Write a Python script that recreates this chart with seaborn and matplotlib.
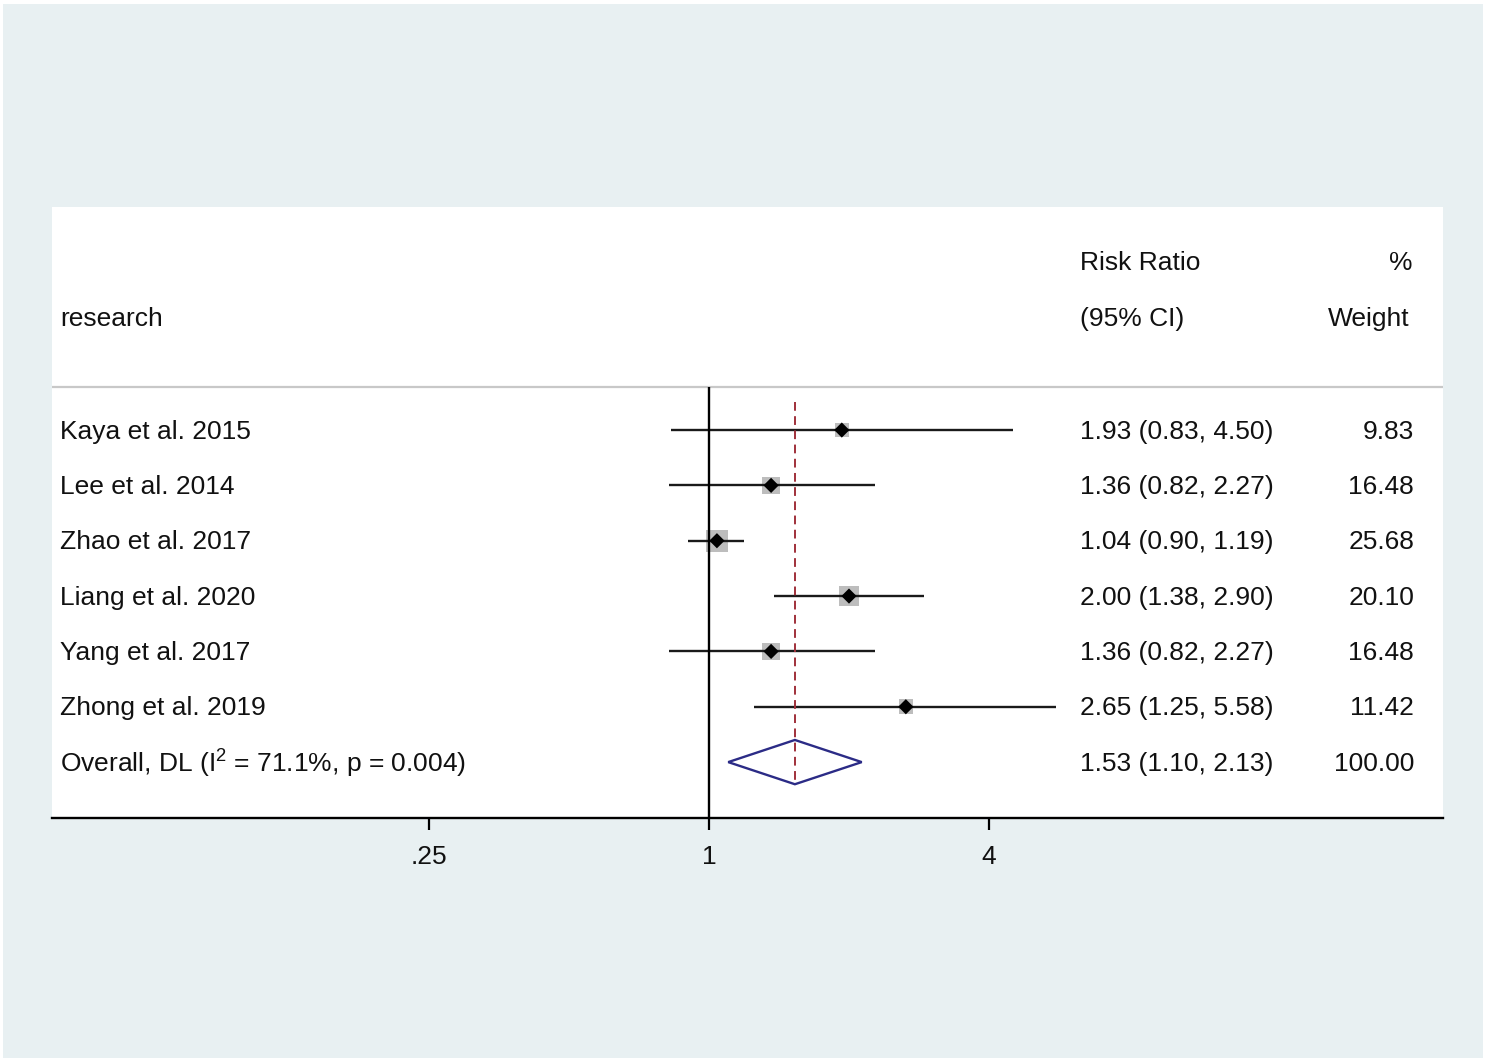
import numpy as np
import pandas as pd
import matplotlib
matplotlib.use("Agg")
import matplotlib.pyplot as plt
import seaborn as sns
from matplotlib.patches import Rectangle, Polygon
from matplotlib.transforms import blended_transform_factory

# ---- data ----
studies = ["Kaya et al. 2015", "Lee et al. 2014", "Zhao et al. 2017",
           "Liang et al. 2020", "Yang et al. 2017", "Zhong et al. 2019"]
rr = [1.93, 1.36, 1.04, 2.00, 1.36, 2.65]
lo = [0.83, 0.82, 0.90, 1.38, 0.82, 1.25]
hi = [4.50, 2.27, 1.19, 2.90, 2.27, 5.58]
weights = [9.83, 16.48, 25.68, 20.10, 16.48, 11.42]
overall_label = r"Overall, DL (I$^{2}$ = 71.1%, p = 0.004)"
overall_rr, overall_lo, overall_hi, overall_w = 1.53, 1.10, 2.13, 100.00
xticks = [0.25, 1, 4]
xticklabels = [".25", "1", "4"]

sns.set_theme(style="white")
plt.rcParams['font.family'] = ['Liberation Sans', 'DejaVu Sans']
plt.rcParams['mathtext.default'] = 'regular'

W, H = 1486, 1062
fig = plt.figure(figsize=(W / 100, H / 100), dpi=100, facecolor="white")
bg = Rectangle((3 / W, 4 / H), 1480 / W, 1054 / H, transform=fig.transFigure,
               facecolor="#E8F0F2", edgecolor="none", zorder=-10)
fig.patches.append(bg)

left, right, top, bottom = 52, 1443, 207, 818
ax = fig.add_axes([left / W, 1 - bottom / H, (right - left) / W, (bottom - top) / H])
ax.set_zorder(1)
ax.set_facecolor("white")

n = len(studies)
df = pd.DataFrame({"study": studies, "rr": rr, "lo": lo, "hi": hi, "w": weights,
                   "row": np.arange(n)})

ax.set_xscale("log", base=2)
x0 = 2 ** ((left - 709) / 140)
x1 = 2 ** ((right - 709) / 140)
ax.set_xlim(x0, x1)
ax.set_ylim(7.01, -4.03)

fs = 19
txt = "#111111"

# CI lines
ax.hlines(df["row"], df["lo"], df["hi"], color="#1a1a1a", lw=1.7, zorder=3)
# weight boxes (area proportional to weight)
k = 4.3 * 0.72  # points per sqrt(weight)
sns.scatterplot(data=df, x="rr", y="row", size="w",
                sizes=(k ** 2 * min(weights), k ** 2 * max(weights)),
                size_norm=(min(weights), max(weights)),
                marker="s", color="#BDBDBD", edgecolor="none", legend=False, ax=ax, zorder=2)
# point estimates
sns.scatterplot(data=df, x="rr", y="row", marker="D", s=60, color="black",
                edgecolor="none", legend=False, ax=ax, zorder=4)

# overall diamond
orow = n
dia = Polygon([(overall_lo, orow), (overall_rr, orow - 0.40), (overall_hi, orow),
               (overall_rr, orow + 0.40)], closed=True, fill=False,
              edgecolor="#2B2B86", lw=1.7, zorder=4)
ax.add_patch(dia)

# null line and overall line
ax.vlines(1, -0.78, 7.01, color="black", lw=1.7, zorder=3)
ax.vlines(overall_rr, -0.51, orow + 0.40, color="#A0303A", lw=1.4,
          linestyles=(0, (4.5, 2.8)), zorder=3)
# header separator
ax.axhline(-0.78, color="#C8C8C8", lw=1.6, zorder=1)

# spines and ticks
for s in ["top", "right", "left"]:
    ax.spines[s].set_visible(False)
ax.spines["bottom"].set_color("black")
ax.spines["bottom"].set_linewidth(1.7)
ax.set_xticks(xticks)
ax.set_xticklabels(xticklabels)
ax.xaxis.set_minor_locator(matplotlib.ticker.NullLocator())
ax.tick_params(axis="x", direction="out", length=8.5, width=1.6, color="black",
               labelsize=fs, pad=11, labelcolor=txt, bottom=True)
ax.set_yticks([])
ax.set_xlabel("")
ax.set_ylabel("")

tr = blended_transform_factory(ax.transAxes, ax.transData)
def fx(px):
    return (px - left) / (right - left)

yo = 0.03  # small downward text offset (rows)
# headers
ax.text(fx(60), -2.04 + yo, "research", transform=tr, ha="left", va="center", fontsize=fs, color=txt)
ax.text(fx(1080), -3.04 + yo, "Risk Ratio", transform=tr, ha="left", va="center", fontsize=fs, color=txt)
ax.text(fx(1080), -2.04 + yo, "(95% CI)", transform=tr, ha="left", va="center", fontsize=fs, color=txt)
ax.text(fx(1412), -3.04 + yo, "%", transform=tr, ha="right", va="center", fontsize=fs, color=txt)
ax.text(fx(1410), -2.04 + yo, "Weight", transform=tr, ha="right", va="center", fontsize=fs, color=txt)

# rows
for i in range(n):
    ax.text(fx(60), i + yo, studies[i], transform=tr, ha="left", va="center", fontsize=fs, color=txt)
    ax.text(fx(1080), i + yo, f"{rr[i]:.2f} ({lo[i]:.2f}, {hi[i]:.2f})", transform=tr,
            ha="left", va="center", fontsize=fs, color=txt)
    ax.text(fx(1414), i + yo, f"{weights[i]:.2f}", transform=tr, ha="right", va="center",
            fontsize=fs, color=txt)
ax.text(fx(60), orow + yo, overall_label, transform=tr, ha="left", va="center", fontsize=fs, color=txt)
ax.text(fx(1080), orow + yo, f"{overall_rr:.2f} ({overall_lo:.2f}, {overall_hi:.2f})", transform=tr,
        ha="left", va="center", fontsize=fs, color=txt)
ax.text(fx(1414), orow + yo, f"{overall_w:.2f}", transform=tr, ha="right", va="center",
        fontsize=fs, color=txt)

fig.savefig("out.png", dpi=100, facecolor="white")
